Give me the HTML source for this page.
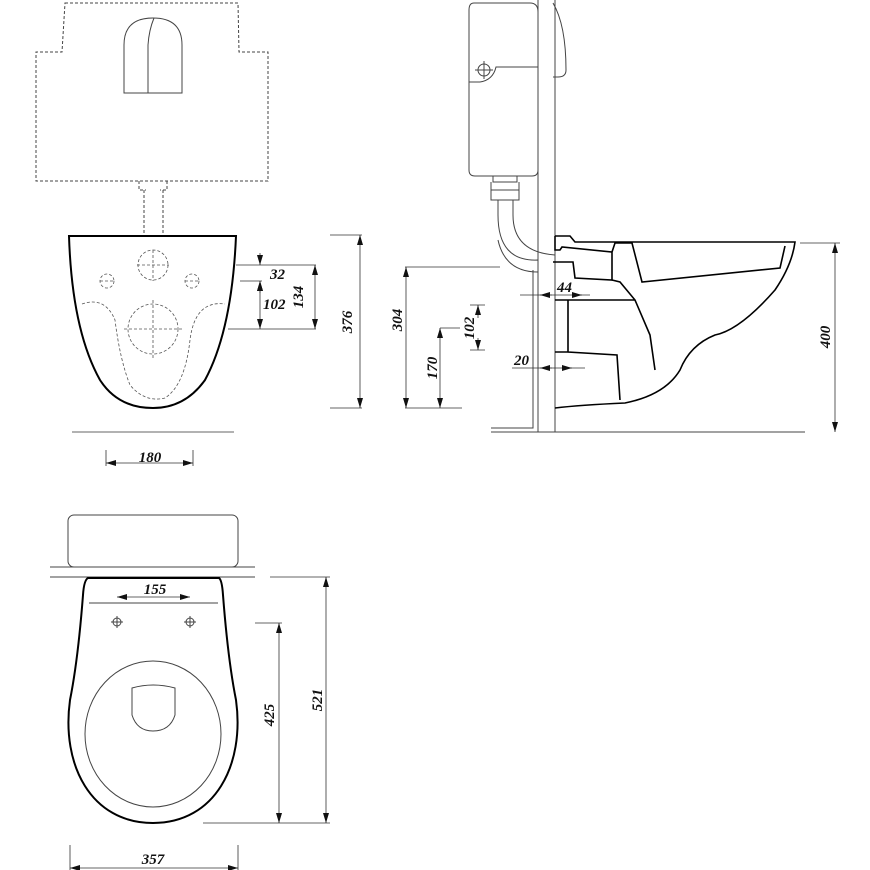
<!DOCTYPE html>
<html><head><meta charset="utf-8"><style>
html,body{margin:0;padding:0;background:#fff}
svg{display:block}
text{font-family:"Liberation Serif",serif;font-weight:bold;font-style:italic;font-size:15px;fill:#111}
</style></head><body>
<svg width="870" height="870" viewBox="0 0 870 870" xmlns="http://www.w3.org/2000/svg">
<defs>
<marker id="a" markerWidth="10" markerHeight="6" refX="10" refY="3" orient="auto-start-reverse" markerUnits="userSpaceOnUse"><path d="M0,0 L10,3 L0,6 Z" fill="#111"/></marker>
</defs>
<g fill="none" stroke="#444" stroke-width="1">
<path d="M65,3 H238 L239,52 H268 V181 H36 V52 H62 Z" stroke-dasharray="3,2"/>
<path d="M124,93 V45 Q124,18 153,18 Q182,18 182,45 V93 Z"/>
<path d="M148,93 V45 Q149,30 154,18"/>
<path d="M139,181 V190 H146 M167,181 V190 H160" stroke-dasharray="3,2"/>
<path d="M144,190 V236 M163,190 V236" stroke-dasharray="3,2"/>
</g>
<path d="M69,236 H236 Q232,330 205,380 Q185,408 153,408 Q118,408 100,380 Q72,330 69,236 Z" fill="none" stroke="#000" stroke-width="2"/>
<g fill="none" stroke="#555" stroke-width="0.8" stroke-dasharray="3,2">
<circle cx="153" cy="265" r="15"/><circle cx="107" cy="281" r="7"/><circle cx="192" cy="281" r="7"/><circle cx="153" cy="329" r="25"/>
<path d="M82,304 Q105,296 115,320 Q120,360 130,385 Q145,403 165,398 Q185,385 190,340 Q195,300 225,304"/>
<path d="M153,250 V281 M137,265 H169 M100,281 H114 M185,281 H199 M153,300 V358 M124,329 H182"/>
</g>
<g stroke="#333" stroke-width="0.8" fill="none">
<path d="M236,265 H316 M240,281 H262 M228,329 H316 M330,235 H362 M330,408 H362 M72,432 H234 M106,450 V466 M193,450 V466"/>
<line x1="260" y1="253" x2="260" y2="265" marker-end="url(#a)"/>
<line x1="260" y1="293" x2="260" y2="281" marker-end="url(#a)"/>
<line x1="260" y1="281" x2="260" y2="329" marker-start="url(#a)" marker-end="url(#a)"/>
<line x1="315" y1="265" x2="315" y2="329" marker-start="url(#a)" marker-end="url(#a)"/>
<line x1="360" y1="235" x2="360" y2="408" marker-start="url(#a)" marker-end="url(#a)"/>
<line x1="106" y1="463" x2="193" y2="463" marker-start="url(#a)" marker-end="url(#a)"/>
</g>
<text x="270" y="279" font-size="13">32</text>
<text x="263" y="309" font-size="13">102</text>
<text transform="translate(303,297) rotate(-90)" text-anchor="middle">134</text>
<text transform="translate(352,322) rotate(-90)" text-anchor="middle">376</text>
<text x="150" y="462" text-anchor="middle">180</text>

<g fill="none" stroke="#444" stroke-width="1">
<path d="M474,3 H530 Q538,3 538,12 V170 Q538,176 532,176 H475 Q469,176 469,170 V10 Q469,3 474,3 Z"/>
<path d="M538,67 H496 Q493,80 480,82 H469"/>
<circle cx="484" cy="70" r="6"/><path d="M484,61 V79 M475,70 H493"/>
<path d="M493,176 V182 H517 V176 M491,182 V200 H519 V182 M491,190 H519"/>
<path d="M498,200 V215 Q498,262 538,260 M513,200 V215 Q513,252 555,255 M538,260 V272 Q505,272 498,240"/>
<path d="M553,3 Q566,25 566,70 Q566,77 558,77 H553"/>
<path d="M538,0 V432 M555,0 V432 M533,270 V428 H491 M491,432 H805"/>
</g>
<g fill="none" stroke="#000" stroke-width="1.6">
<path d="M555,236 H570 L575,242 H795 Q792,265 775,290 Q740,330 715,335 Q690,345 680,370 Q665,395 625,403 Q580,405 555,408"/>
<path d="M555,236 V250 H560 L562,247 L612,252 L615,243 L632,243 L642,282 L780,268 L785,246 M553,262 L573,262 L575,278 L612,280 L612,252"/>
<path d="M612,280 L620,282 L635,300 L650,335 L655,370 M555,300 L620,300 L635,300 M568,300 V352 L617,355 L620,400 M555,352 H568"/>
</g>
<g stroke="#333" stroke-width="0.8" fill="none">
<path d="M405,267 H500 M800,243 H840 M440,328 H460 M405,408 H462 M470,305 H485 M470,350 H485 M520,295 H590 M512,368 H585"/>
<line x1="406" y1="267" x2="406" y2="408" marker-start="url(#a)" marker-end="url(#a)"/>
<line x1="440" y1="328" x2="440" y2="408" marker-start="url(#a)" marker-end="url(#a)"/>
<line x1="478" y1="305" x2="478" y2="318" marker-start="url(#a)"/>
<line x1="478" y1="338" x2="478" y2="350" marker-end="url(#a)"/>
<line x1="835" y1="243" x2="835" y2="432" marker-start="url(#a)" marker-end="url(#a)"/>
<line x1="540" y1="295" x2="552" y2="295" marker-start="url(#a)"/>
<line x1="582" y1="295" x2="572" y2="295" marker-start="url(#a)"/>
<line x1="540" y1="368" x2="552" y2="368" marker-start="url(#a)"/>
<line x1="572" y1="368" x2="562" y2="368" marker-start="url(#a)"/>
</g>
<text transform="translate(402,320) rotate(-90)" text-anchor="middle">304</text>
<text transform="translate(437,368) rotate(-90)" text-anchor="middle">170</text>
<text transform="translate(474,328) rotate(-90)" text-anchor="middle">102</text>
<text transform="translate(830,337) rotate(-90)" text-anchor="middle">400</text>
<text x="557" y="292" font-size="13">44</text>
<text x="514" y="365" font-size="13">20</text>

<g fill="none" stroke="#444" stroke-width="1">
<rect x="68" y="515" width="170" height="52" rx="6"/>
<path d="M50,567 H255 M50,577 H255 M89,603 H218"/>
<ellipse cx="153" cy="734" rx="68" ry="73"/>
<path d="M132,688 Q153,682 175,688 V715 Q170,731 153,731 Q137,731 132,715 Z"/>
<circle cx="117" cy="622" r="4"/><circle cx="190" cy="622" r="4"/>
<path d="M111,622 H123 M117,616 V628 M184,622 H196 M190,616 V628"/>
</g>
<path d="M88,578 H219 Q222,580 223,595 Q228,660 236,700 C245,765 215,823 153,823 C91,823 61,765 70,700 Q78,660 83,595 Q84,580 88,578 Z" fill="none" stroke="#000" stroke-width="2"/>
<g stroke="#333" stroke-width="0.8" fill="none">
<path d="M255,623 H282 M203,823 H330 M270,577 H330 M70,845 V870 M238,845 V870"/>
<line x1="117" y1="597" x2="190" y2="597" marker-start="url(#a)" marker-end="url(#a)"/>
<line x1="279" y1="623" x2="279" y2="823" marker-start="url(#a)" marker-end="url(#a)"/>
<line x1="326" y1="577" x2="326" y2="823" marker-start="url(#a)" marker-end="url(#a)"/>
<line x1="70" y1="868" x2="238" y2="868" marker-start="url(#a)" marker-end="url(#a)"/>
</g>
<text x="155" y="594" text-anchor="middle" font-size="13">155</text>
<text transform="translate(274,715) rotate(-90)" text-anchor="middle">425</text>
<text transform="translate(322,700) rotate(-90)" text-anchor="middle">521</text>
<text x="153" y="864" text-anchor="middle">357</text>
</svg>
</body></html>
